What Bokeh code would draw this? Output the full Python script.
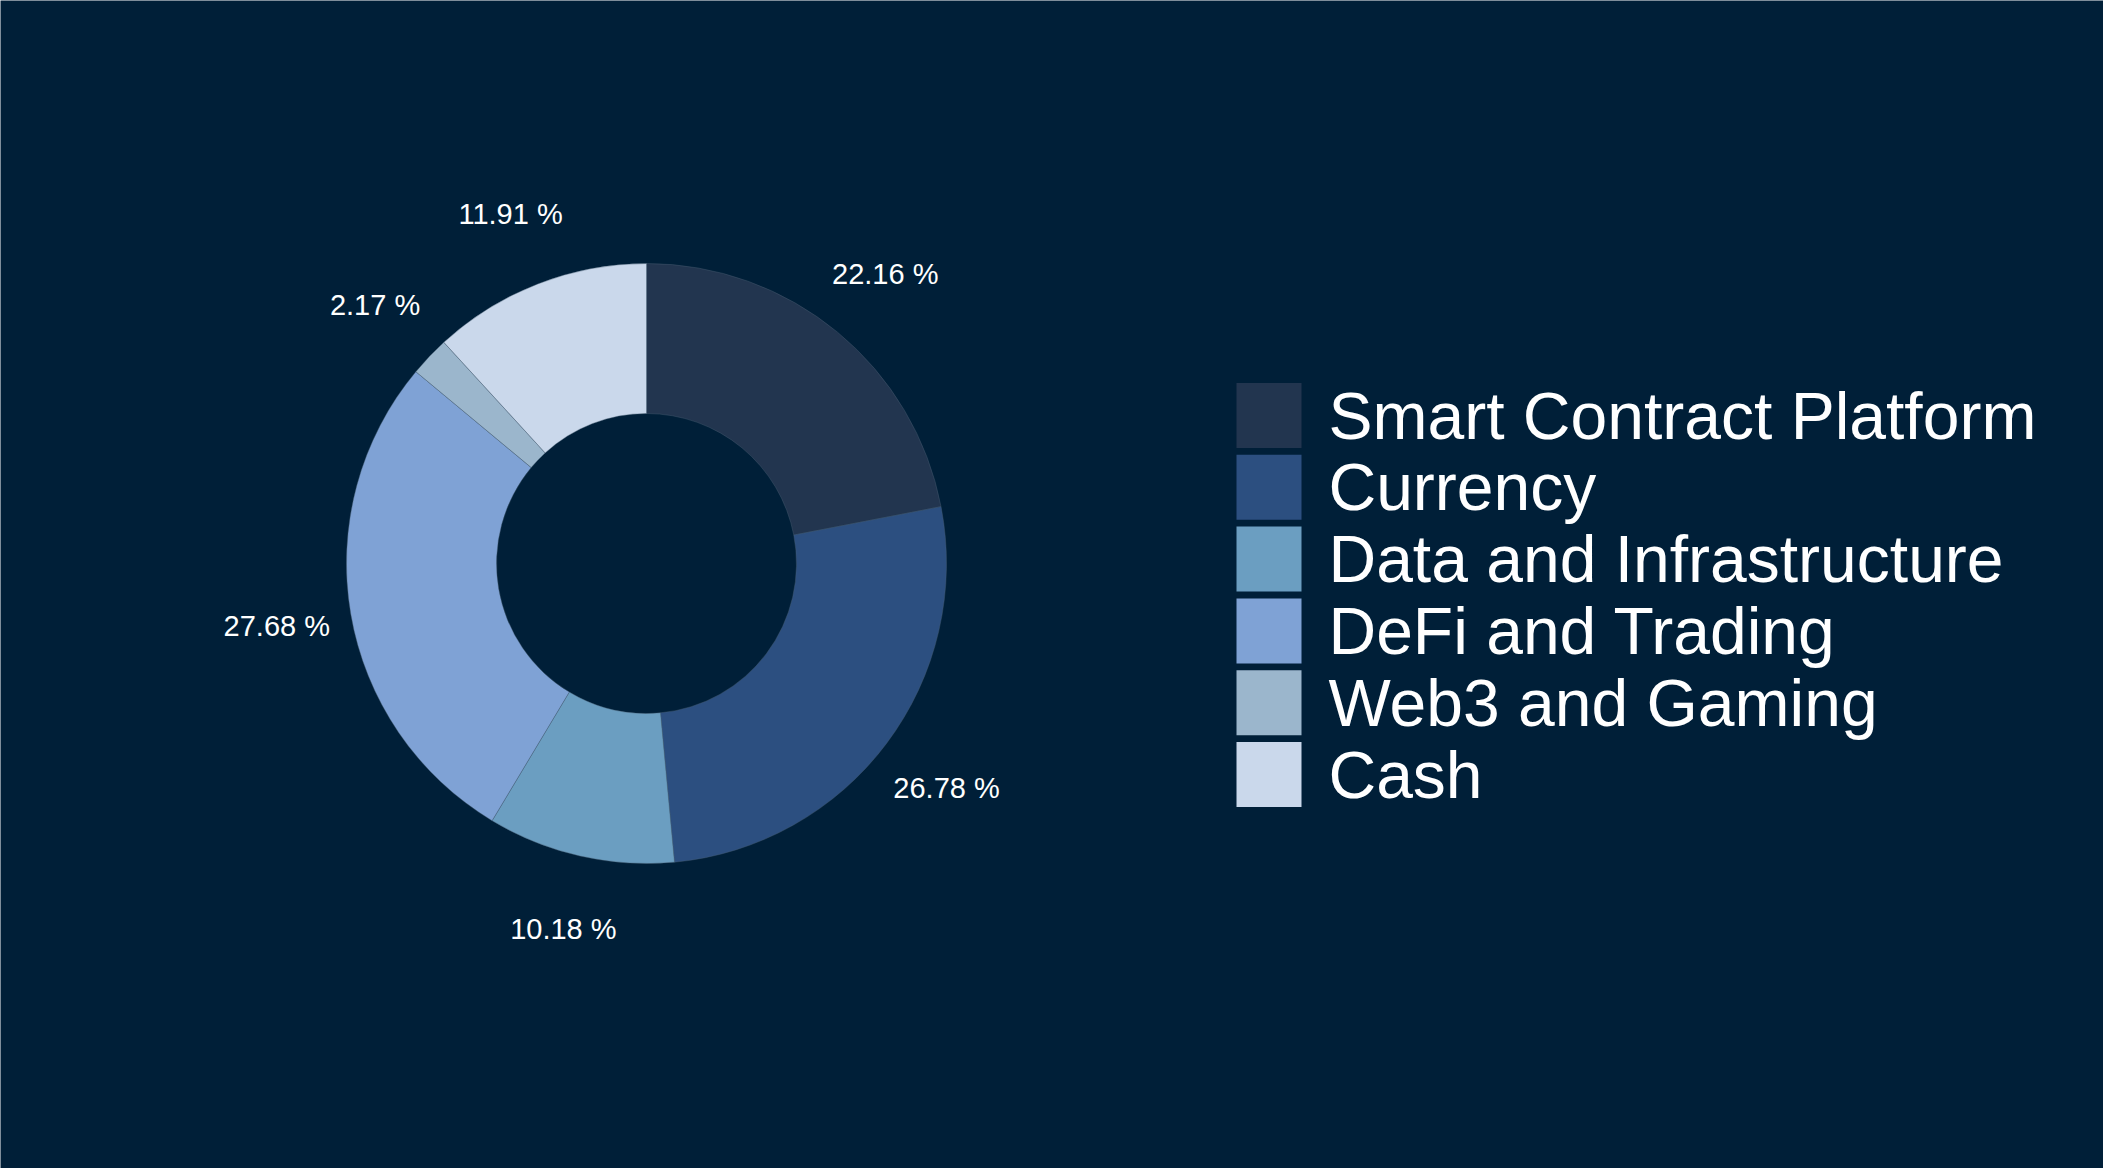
import numpy as np
from bokeh.plotting import figure
from bokeh.models import Range1d, ColumnDataSource
from bokeh.core.properties import value
from bokeh.embed import file_html
from bokeh.resources import INLINE

categories = ["Smart Contract Platform", "Currency", "Data and Infrastructure",
              "DeFi and Trading", "Web3 and Gaming", "Cash"]
shares = [22.16, 26.78, 10.18, 27.68, 2.17, 11.91]
colors = ["#22354f", "#2c4f80", "#6b9ec1", "#7fa2d5", "#9bb6cc", "#cad8eb"]
labels = [f"{v:.2f} %" for v in shares]

W, H = 2103, 1168
BG = "#001f38"

p = figure(width=W, height=H, output_backend="svg", toolbar_location=None,
           x_range=Range1d(0, W), y_range=Range1d(0, H),
           min_border=0, background_fill_color=BG, border_fill_color=BG,
           outline_line_color=None)
p.axis.visible = False
p.grid.visible = False

cx, cy = 646, H - 563
r_out, r_in, r_lab = 300, 150, 375

vals = np.array(shares, dtype=float)
frac = vals / vals.sum()
cum = np.concatenate([[0], np.cumsum(frac)])
# clockwise from top
start = np.pi / 2 - 2 * np.pi * cum[:-1]
end = np.pi / 2 - 2 * np.pi * cum[1:]
mid = (start + end) / 2

src = ColumnDataSource(dict(start=start, end=end, color=colors,
                            lx=cx + r_lab * np.cos(mid), ly=cy + r_lab * np.sin(mid),
                            label=labels))
p.annular_wedge(x=cx, y=cy, inner_radius=r_in, outer_radius=r_out,
                start_angle="end", end_angle="start", direction="anticlock",
                fill_color="color", line_color="#4a5f75", line_width=0.4,
                source=src)
p.text(x="lx", y="ly", text="label", source=src, text_color="white",
       text_font=value("Liberation Sans"), text_font_size="29px",
       text_align="center", text_baseline="middle")

# legend
n = len(categories)
row_y = [H - (415 + 71.8 * i) for i in range(n)]
lsrc = ColumnDataSource(dict(y=row_y, color=colors, name=categories))
p.rect(x=1268.5, y="y", width=65, height=65, fill_color="color",
       line_color=None, source=lsrc)
p.text(x=1328, y="y", text="name", source=lsrc, text_color="white",
       text_font=value("Liberation Sans"), text_font_size="66px",
       text_align="left", text_baseline="middle")

open("out.html", "w").write(file_html(p, INLINE))
